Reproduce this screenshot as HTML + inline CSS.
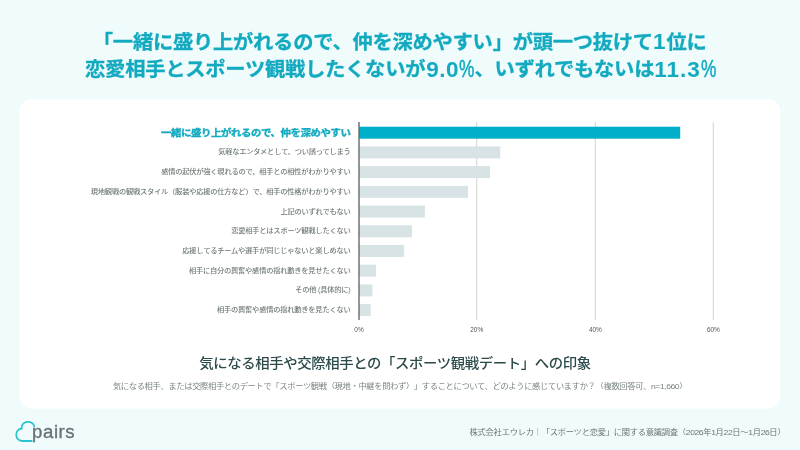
<!DOCTYPE html>
<html lang="ja">
<head>
<meta charset="utf-8">
<title>スポーツ観戦デートへの印象</title>
<style>
html,body{margin:0;padding:0;}
body{width:800px;height:450px;overflow:hidden;background:#f0fcfc;position:relative;text-spacing-trim:space-all;font-family:"Liberation Sans","Noto Sans CJK JP",sans-serif;}
.lab,.tick,.chart{position:absolute;}
.h1{position:absolute;left:0;width:799.4px;text-align:center;color:#13aac0;font-weight:700;font-size:20.3px;line-height:28px;white-space:nowrap;letter-spacing:-0.25px;-webkit-text-stroke:0.3px #13aac0;}
.h1 .c{display:inline-block;transform:translateY(0.7px) scaleY(0.955);transform-origin:50% 50%;}
.h1 .n{font-size:22.5px;font-weight:700;letter-spacing:1.05px;line-height:1;-webkit-text-stroke:0;position:relative;top:0.3px;}
.h1.l2 .n,.h1.l2 .p{top:1.5px;}
.h1 .n.t{letter-spacing:0.5px;margin-left:1px;}
.h1 .p{display:inline-block;width:15px;font-size:23px;letter-spacing:0;line-height:1;font-weight:400;transform:scaleX(0.75);transform-origin:0 50%;-webkit-text-stroke:0.5px #13aac0;position:relative;top:0.6px;}
.h1 .p.t{margin-left:-0.3px;margin-right:0.8px;}
.chart{left:0;top:0;}
.lab{right:449.5px;height:20px;line-height:20px;font-size:7.3px;letter-spacing:-0.27px;font-weight:500;color:#717a7a;white-space:nowrap;text-align:right;transform:scaleY(0.9);transform-origin:100% 50%;}
.lab.hi{font-size:10.4px;letter-spacing:-0.4px;font-weight:700;color:#13aac0;-webkit-text-stroke:0.4px #13aac0;}
.tick{top:324.5px;width:40px;text-align:center;font-size:6.5px;line-height:10px;color:#505757;}
.ctitle{position:absolute;left:0;width:790px;top:350.5px;text-align:center;font-size:14.4px;letter-spacing:-0.4px;line-height:24px;color:#2d4a4a;font-weight:500;white-space:nowrap;transform:scaleY(0.94);}
.csub{position:absolute;left:0;width:800px;top:379px;text-align:center;font-size:8.3px;letter-spacing:-0.37px;line-height:14px;color:#7a8484;white-space:nowrap;transform:scaleY(0.9);}
.csub .d,.foot .d{letter-spacing:-0.45px;font-size:8.6px;}
.foot{position:absolute;right:14.6px;top:425.2px;font-size:8.3px;letter-spacing:-0.28px;line-height:14px;color:#6b7474;white-space:nowrap;transform:scaleY(0.9);transform-origin:100% 50%;}
.logo{position:absolute;left:0;top:410px;}
</style>
</head>
<body>
<div class="h1" style="top:28px"><span class="c">「一緒に盛り上がれるので、仲を深めやすい」が頭一つ抜けて</span><span class="n">1</span><span class="c">位に</span></div>
<div class="h1 l2" style="top:54.8px;left:1px;width:799px"><span class="c">恋愛相手とスポーツ観戦したくないが</span><span class="n t">9.0</span><span class="p t">%</span><span class="c">、いずれでもないは</span><span class="n">11.3</span><span class="p">%</span></div>
<svg class="chart" width="800" height="450" viewBox="0 0 800 450">
<rect x="19.6" y="99.5" width="760.7" height="308.9" rx="12" ry="12" fill="#fff"/>
<rect x="476.05" y="122.3" width="1.2" height="197.7" fill="#dadada"/>
<rect x="594.75" y="122.3" width="1.2" height="197.7" fill="#dadada"/>
<rect x="712.75" y="122.3" width="1.2" height="197.7" fill="#dadada"/>
<rect x="359.5" y="126.70" width="320.7" height="12" fill="#00b0c9"/>
<rect x="359.5" y="146.41" width="140.8" height="12" fill="#d8e3e6"/>
<rect x="359.5" y="166.12" width="130.5" height="12" fill="#d8e3e6"/>
<rect x="359.5" y="185.83" width="108.5" height="12" fill="#d8e3e6"/>
<rect x="359.5" y="205.54" width="65.4" height="12" fill="#d8e3e6"/>
<rect x="359.5" y="225.25" width="52.5" height="12" fill="#d8e3e6"/>
<rect x="359.5" y="244.96" width="44.7" height="12" fill="#d8e3e6"/>
<rect x="359.5" y="264.67" width="16.5" height="12" fill="#d8e3e6"/>
<rect x="359.5" y="284.38" width="12.9" height="12" fill="#d8e3e6"/>
<rect x="359.5" y="304.09" width="11.2" height="12" fill="#d8e3e6"/>
<rect x="358" y="122" width="2" height="198" fill="#000" fill-opacity="0.41"/>
</svg>
<div class="tick" style="left:339.0px">0%</div>
<div class="tick" style="left:456.7px">20%</div>
<div class="tick" style="left:575.4px">40%</div>
<div class="tick" style="left:693.4px">60%</div>
<div class="lab hi" style="top:122.70px">一緒に盛り上がれるので、仲を深めやすい</div>
<div class="lab" style="top:142.41px">気軽なエンタメとして、つい誘ってしまう</div>
<div class="lab" style="top:162.12px">感情の起伏が強く現れるので、相手との相性がわかりやすい</div>
<div class="lab" style="top:181.83px">現地観戦の観戦スタイル（服装や応援の仕方など）で、相手の性格がわかりやすい</div>
<div class="lab" style="top:201.54px">上記のいずれでもない</div>
<div class="lab" style="top:221.25px">恋愛相手とはスポーツ観戦したくない</div>
<div class="lab" style="top:240.96px">応援してるチームや選手が同じじゃないと楽しめない</div>
<div class="lab" style="top:260.67px">相手に自分の興奮や感情の揺れ動きを見せたくない</div>
<div class="lab" style="top:280.38px">その他 (具体的に)</div>
<div class="lab" style="top:300.09px">相手の興奮や感情の揺れ動きを見たくない</div>
<div class="ctitle">気になる相手や交際相手との「スポーツ観戦デート」への印象</div>
<div class="csub">気になる相手、または交際相手とのデートで「スポーツ観戦（現地・中継を問わず）」することについて、どのように感じていますか？（複数回答可、<span class="d">n=1,660</span>）</div>
<div class="foot">株式会社エウレカ｜「スポーツと恋愛」に関する意識調査（<span class="d">2026</span>年<span class="d">1</span>月<span class="d">22</span>日〜<span class="d">1</span>月<span class="d">26</span>日）</div>
<svg class="logo" width="100" height="40" viewBox="0 0 100 40">
<path d="M31.8 31 H22 A6.4 6.3 0 0 1 21.7 18.5 A6.4 5.6 0 0 1 34.3 16.4" fill="none" stroke="#2cc3d1" stroke-width="1.8" stroke-linecap="round"/>
<text x="32.1" y="28.1" font-family="Liberation Sans, sans-serif" font-size="18.6" letter-spacing="0.55" fill="#687174" stroke="#687174" stroke-width="0.35">pairs</text>
</svg>
</body>
</html>
